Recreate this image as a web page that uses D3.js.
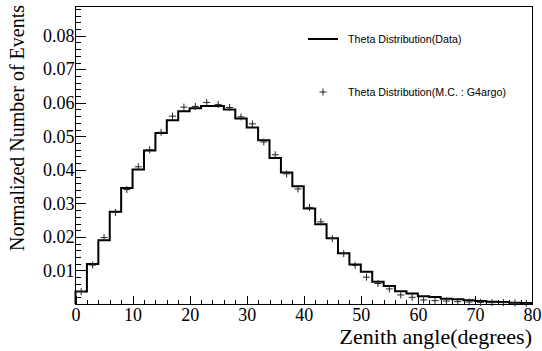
<!DOCTYPE html>
<html>
<head>
<meta charset="utf-8">
<script src="https://cdn.jsdelivr.net/npm/d3@7"></script>
<style>
  body { margin: 0; background: #fff; }
  .axis text { font-family: "Liberation Serif", "Times New Roman", serif; font-size: 18px; fill: #000; }
  .axis path, .axis line { stroke: #000; stroke-width: 1; shape-rendering: crispEdges; }
  .title { font-family: "Liberation Serif", "Times New Roman", serif; font-size: 20px; fill: #000; }
  .xtitle { font-size: 22px; }
  .legend { font-family: "Liberation Sans", Arial, sans-serif; font-size: 10.7px; fill: #000; }
</style>
</head>
<body>
<svg id="chart" width="542" height="351"></svg>
<script>
// bin width 2 degrees, 0..80
const binWidth = 2;
const binLow = d3.range(0, 80, binWidth);

// Theta Distribution (Data) - histogram
const dataValues = [0.0037, 0.0119, 0.0190, 0.0275, 0.0346, 0.0401, 0.0458, 0.0510, 0.0548, 0.0575,
                    0.0584, 0.0590, 0.0590, 0.0580, 0.0553, 0.0526, 0.0488, 0.0435, 0.0392, 0.0351,
                    0.0285, 0.0238, 0.0196, 0.0151, 0.0118, 0.0096, 0.0066, 0.0054, 0.0038, 0.0031,
                    0.0023, 0.0021, 0.0016, 0.0014, 0.0011, 0.0009, 0.0007, 0.0006, 0.0004, 0.0003];

// Theta Distribution (M.C. : G4argo) - markers
const mcValues = [0.0037, 0.0116, 0.0198, 0.0273, 0.0341, 0.0409, 0.0460, 0.0512, 0.0560, 0.0587,
                  0.0589, 0.0601, 0.0595, 0.0586, 0.0558, 0.0537, 0.0483, 0.0445, 0.0388, 0.0343,
                  0.0288, 0.0245, 0.0195, 0.0150, 0.0115, 0.0080, 0.0061, 0.0045, 0.0027, 0.0020,
                  0.0012, 0.0010, 0.0009, 0.0007, 0.0006, 0.0005, 0.0004, 0.0004, 0.0003, 0.0002];

const xTicks = [0, 10, 20, 30, 40, 50, 60, 70, 80];
const yTicks = [0.01, 0.02, 0.03, 0.04, 0.05, 0.06, 0.07, 0.08];

const legendLabels = ["Theta Distribution(Data)", "Theta Distribution(M.C. : G4argo)"];

const mLeft = 75.5, mRight = 532, mTop = 6.5, mBottom = 304;

const xScale = d3.scaleLinear().domain([0, 80]).range([mLeft, mRight]);
const yScale = d3.scaleLinear().domain([0, 0.0887]).range([mBottom, mTop]);

const svg = d3.select("#chart");

// frame
svg.append("rect")
    .attr("x", mLeft).attr("y", mTop)
    .attr("width", mRight - mLeft).attr("height", mBottom - mTop)
    .attr("fill", "none")
    .attr("stroke", "#000")
    .attr("stroke-width", 1)
    .attr("shape-rendering", "crispEdges");

// minor ticks
svg.append("g").attr("class", "axis")
    .attr("transform", `translate(0, ${mBottom})`)
    .call(d3.axisBottom(xScale).tickValues(d3.range(0, 81, 2)).tickSize(-4).tickFormat(""))
    .call(g => g.select(".domain").remove());

svg.append("g").attr("class", "axis")
    .attr("transform", `translate(${mLeft}, 0)`)
    .call(d3.axisLeft(yScale).tickValues(d3.range(0.002, 0.0887, 0.002)).tickSize(-5).tickFormat(""))
    .call(g => g.select(".domain").remove());

// X Axis
svg.append("g").attr("class", "axis")
    .attr("transform", `translate(0, ${mBottom})`)
    .call(d3.axisBottom(xScale).tickValues(xTicks).tickSize(-8).tickPadding(4).tickFormat(d3.format("d")))
    .call(g => g.select(".domain").remove());

// Y Axis
svg.append("g").attr("class", "axis")
    .attr("transform", `translate(${mLeft}, 0)`)
    .call(d3.axisLeft(yScale).tickValues(yTicks).tickSize(-10).tickPadding(1).tickFormat(d3.format(".2f")))
    .call(g => g.select(".domain").remove());

// histogram (step line)
const stepPts = [[0, 0]].concat(binLow.map((b, i) => [b, dataValues[i]]));
stepPts.push([80, dataValues[dataValues.length - 1]]);
stepPts.push([80, 0]);

const step = d3.line()
    .x(d => xScale(d[0]))
    .y(d => yScale(d[1]))
    .curve(d3.curveStepAfter);

svg.append("path")
    .datum(stepPts)
    .attr("d", step)
    .attr("fill", "none")
    .attr("stroke", "#000")
    .attr("stroke-width", 2);

// M.C. markers
const plus = "M-3.5,0H3.5M0,-3.5V3.5";
svg.selectAll(".mc")
    .data(mcValues)
    .join("path")
    .attr("class", "mc")
    .attr("transform", (d, i) => `translate(${xScale(binLow[i] + binWidth / 2)}, ${yScale(d)})`)
    .attr("d", plus)
    .attr("fill", "none")
    .attr("stroke", "#222")
    .attr("stroke-width", 1);

// axis titles
svg.append("text")
    .attr("class", "title xtitle")
    .attr("x", mRight)
    .attr("y", 344)
    .attr("text-anchor", "end")
    .text("Zenith angle(degrees)");

svg.append("text")
    .attr("class", "title")
    .attr("transform", `translate(24, 5) rotate(-90)`)
    .attr("text-anchor", "end")
    .text("Normalized Number of Events");

// legend
const lg = svg.append("g");
lg.append("line")
    .attr("x1", 308).attr("x2", 338)
    .attr("y1", 39).attr("y2", 39)
    .attr("stroke", "#000").attr("stroke-width", 2);
lg.append("path")
    .attr("transform", "translate(323, 92)")
    .attr("d", plus)
    .attr("stroke", "#222").attr("stroke-width", 1);
lg.selectAll("text")
    .data(legendLabels)
    .join("text")
    .attr("class", "legend")
    .attr("x", 348)
    .attr("y", (d, i) => i === 0 ? 42.5 : 95.5)
    .text(d => d);
</script>
</body>
</html>
